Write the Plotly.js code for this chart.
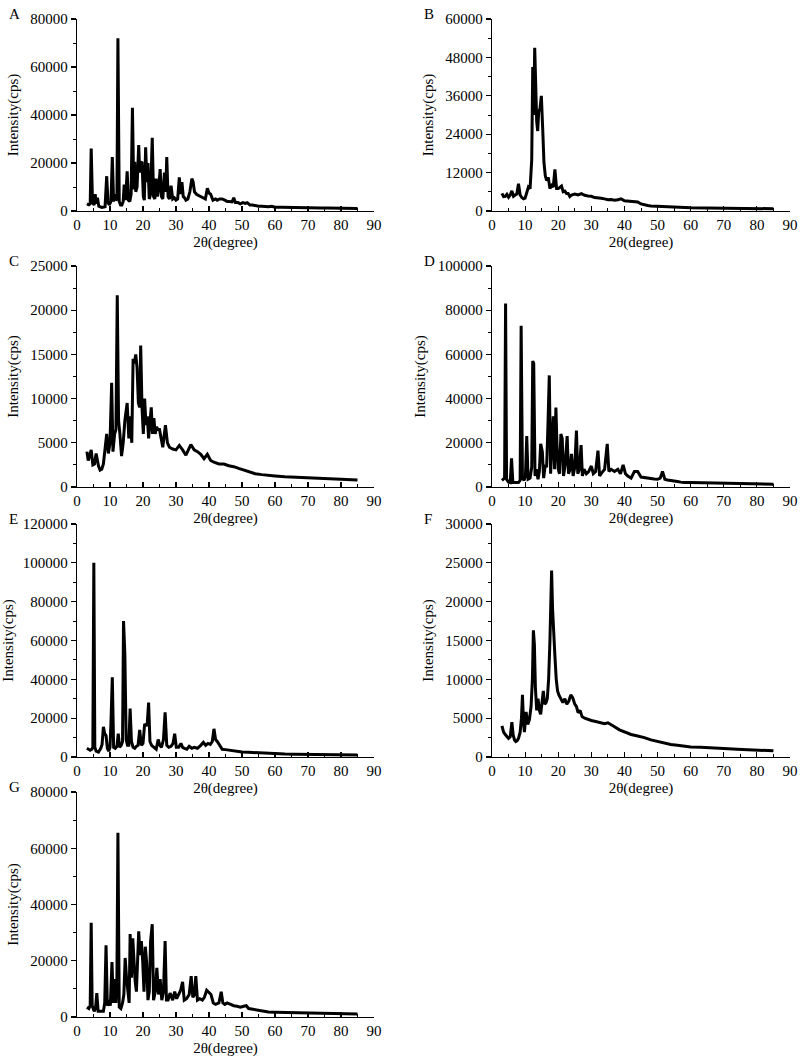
<!DOCTYPE html>
<html>
<head>
<meta charset="utf-8">
<script src="https://cdn.plot.ly/plotly-3.0.1.min.js"></script>
<style>html,body{margin:0;padding:0;background:#fff;}#chart{width:800px;height:1058px;}</style>
</head>
<body>
<div id="chart"></div>
<script>
// ---- Data ----
const panelLabels = ["A","B","C","D","E","F","G"];
const xTitle = "2θ(degree)";
const yTitle = "Intensity(cps)";
const xTicks = [0,10,20,30,40,50,60,70,80,90];
const yMax   = [80000, 60000, 25000, 100000, 120000, 30000, 80000];
const yStep  = [20000, 12000, 5000, 20000, 20000, 5000, 20000];

const aX = [3,3.6,4.0,4.3,4.7,5.2,5.5,5.9,6.2,6.6,7.5,8.5,9.0,9.4,9.8,10.3,10.7,11.1,11.5,11.8,12.1,12.4,12.8,13.2,13.6,14.0,14.3,14.7,15.2,15.6,16.0,16.4,16.8,17.2,17.5,17.8,18.2,18.7,19.0,19.3,19.7,20.1,20.4,20.8,21.2,21.5,21.9,22.3,22.8,23.2,23.6,24.0,24.4,24.8,25.2,25.6,26.0,26.5,26.9,27.2,27.6,28.0,28.5,29.0,29.5,30.0,30.5,31.0,31.4,31.8,32.2,32.6,33.0,33.6,34.2,34.8,35.2,35.6,36.2,36.8,37.5,38.2,38.9,39.5,40.0,40.5,41.2,42.0,42.5,43.2,44.0,44.8,45.5,46.2,47.0,47.5,48.0,48.8,49.5,50.3,51.0,51.6,52.4,53.2,54.0,55.0,56.0,57.0,58.0,59.0,60.0,62.0,64.0,66.0,68.0,70.0,72.0,74.0,76.0,78.0,80.0,82.0,85.0];
const aY = [3000,2600,3000,26000,3500,2500,7000,3000,5500,2000,1500,1800,14500,3500,2500,4000,22500,4000,7000,4500,5000,72000,4000,2500,2500,4000,11000,4500,16500,4500,4000,7000,43000,9000,20500,8000,10000,27500,16000,20000,20500,6000,4500,26500,12000,20000,5000,7000,30500,6000,5000,13500,6000,10000,17500,6000,5000,16000,8000,22500,6000,5000,10500,5000,5500,4500,5000,14000,7000,12000,6000,5500,4500,5000,8000,13500,12000,8000,7000,6500,6000,5500,5000,9500,7500,7000,4500,5000,4500,5000,5000,4500,4000,4000,3800,5500,3500,3500,3000,3500,3200,3500,2500,2500,2200,2000,2000,1800,1800,2000,1600,1600,1500,1500,1500,1400,1400,1300,1300,1200,1200,1100,1000];

const bX = [3,3.5,4.0,4.5,5.0,5.5,6.0,6.5,7.0,7.5,8.0,8.5,9.0,9.5,10.0,10.5,11.0,11.5,12.0,12.3,12.6,12.9,13.2,13.5,13.8,14.1,14.5,14.9,15.3,15.7,16.1,16.5,17.0,17.5,18.0,18.5,19.0,19.5,20.0,20.5,21.0,21.5,22.0,22.5,23.0,23.5,24.0,25.0,26.0,27.0,28.0,29.0,30.0,31.0,32.0,33.0,34.0,35.0,36.0,37.0,38.0,39.0,40.0,41.0,42.0,43.0,44.0,45.0,46.0,47.0,48.0,50.0,52.0,55.0,58.0,60.0,65.0,70.0,75.0,80.0,85.0];
const bY = [5500,4500,4600,5200,4300,5000,6300,4600,5000,5300,8500,5000,4200,3800,4000,5500,7500,7000,16000,45000,30000,51000,33000,28000,25000,31000,32000,36000,26000,15000,11000,9500,10500,7000,8000,7500,13000,7000,7000,7500,7800,6000,6200,5500,5500,4500,5000,5300,5000,5400,4900,4700,4600,4200,4200,4000,3800,3500,3600,3400,3500,3800,3200,3100,3000,3100,2800,2200,1900,1700,1600,1500,1400,1200,1100,1000,950,900,850,800,700];

const cX = [3,3.4,3.8,4.3,4.8,5.3,5.8,6.1,6.5,7.0,7.5,8.0,8.5,9.0,9.5,10.0,10.5,10.9,11.4,11.8,12.2,12.6,13.0,13.5,14.0,14.5,15.2,15.7,16.1,16.6,17.0,17.4,17.8,18.2,18.6,19.0,19.3,19.7,20.1,20.5,20.9,21.3,21.7,22.1,22.5,22.9,23.3,23.7,24.1,24.5,25.0,25.5,26.0,26.8,27.4,28.0,29.0,30.0,31.0,32.0,33.0,34.5,35.5,36.5,37.5,38.5,39.5,40.5,41.5,43.0,44.5,46.0,47.5,49.0,50.5,52.0,54.0,56.0,58.0,60.0,63.0,66.0,70.0,74.0,78.0,82.0,85.0];
const cY = [4000,3000,3500,4200,2500,2600,3800,3000,2400,1900,2000,2600,4500,6000,3800,5000,11800,4000,6000,6500,21700,7500,6000,3500,5000,7500,9500,5500,8000,5000,14500,14000,15000,13500,9500,9000,16000,9000,6000,10000,7000,8000,5500,7000,9000,6000,7800,6000,6800,6500,6500,5500,4500,7000,5000,4500,4300,4200,4700,4200,3600,4800,4200,4000,3700,3200,3700,3000,2800,2600,2600,2400,2300,2100,1900,1700,1500,1400,1300,1250,1150,1100,1000,950,900,850,800];

const dX = [3,3.5,3.8,4.1,4.4,5.0,5.5,5.9,6.3,7.0,8.0,8.5,8.8,9.2,9.7,10.1,10.5,10.9,11.5,12.0,12.3,12.6,13.0,13.4,13.9,14.3,14.7,15.2,15.6,16.1,16.5,16.9,17.3,17.7,18.1,18.5,18.9,19.3,19.6,20.0,20.4,20.8,21.2,21.6,22.1,22.7,23.1,23.6,24.0,24.5,25.0,25.5,25.9,26.4,26.9,27.3,27.8,28.5,29.2,30.0,30.6,31.3,32.0,32.5,33.2,34.0,34.8,35.3,36.0,37.0,38.0,38.8,39.6,40.3,41.0,42.0,43.0,44.0,45.0,46.0,47.0,48.0,49.0,50.0,50.8,51.5,52.2,53.0,54.0,55.0,56.0,57.0,58.0,60.0,63.0,66.0,70.0,74.0,78.0,82.0,85.0];
const dY = [3000,3500,4000,83000,3500,2200,2000,13000,2000,2000,2000,3000,73000,4000,3000,5000,23000,3500,4000,9000,57000,56000,5000,8000,3500,7000,19500,16000,4000,10000,9000,28000,50500,6000,18000,32000,8000,36000,20000,8000,6000,24000,22000,5000,10000,23000,6000,8000,15000,5000,9000,25500,6000,8000,19000,5000,8000,6000,7000,9500,6000,7000,16500,5000,6500,8000,19500,7000,8000,7000,8000,6000,10000,6000,5000,4000,7000,7000,4500,4200,4000,3800,3600,3500,4000,7000,3500,3200,3000,3000,2500,2200,2000,2000,1900,1800,1800,1600,1500,1400,1300];

const eX = [3,3.5,4.0,4.5,4.8,5.1,5.4,5.8,6.5,7.2,7.6,8.0,8.4,8.8,9.2,9.6,10.0,10.3,10.7,11.1,11.6,12.1,12.5,12.9,13.4,13.8,14.1,14.5,14.9,15.3,15.7,16.1,16.5,17.0,17.5,18.0,18.5,19.0,19.5,20.0,20.5,21.0,21.3,21.7,22.1,22.6,23.2,24.0,24.6,25.1,25.6,26.2,26.7,27.2,27.8,28.5,29.1,29.6,30.1,30.8,31.5,32.0,32.6,33.3,34.0,34.8,35.5,36.5,37.5,38.3,39.0,39.7,40.4,41.0,41.5,42.0,42.5,43.2,44.0,45.0,46.0,47.0,48.0,49.0,50.0,52.0,54.0,56.0,58.0,60.0,63.0,66.0,70.0,74.0,78.0,80.0,82.0,85.0];
const eY = [4500,3800,3500,4000,5000,100000,5000,3000,2500,4500,6500,15500,12000,11000,4500,3000,5000,18000,41000,5000,4500,5500,12000,5000,6000,8000,70000,53000,9000,6000,6000,25000,8000,5000,4500,5500,6000,14000,6000,7000,17000,16000,17500,28000,8000,6000,5000,4000,9000,6000,5000,9000,23000,6000,5000,5500,7000,12000,5000,5000,7000,5000,4500,4000,5500,4500,5000,4500,6000,7500,6000,7000,6500,8000,14500,9000,8000,6000,4000,3800,3500,3200,3000,2800,2600,2400,2200,2000,1900,1700,1500,1400,1300,1300,1200,1200,1100,1000];

const fX = [3,3.5,4.0,4.5,5.0,5.5,6.0,6.4,6.8,7.2,7.6,8.0,8.5,8.9,9.2,9.5,9.8,10.3,10.8,11.3,11.8,12.2,12.5,12.8,13.1,13.5,13.9,14.3,14.7,15.1,15.5,15.9,16.3,16.7,17.1,17.5,17.8,18.0,18.3,18.6,19.0,19.4,19.8,20.2,20.8,21.4,22.0,22.6,23.2,23.8,24.4,25.0,25.5,26.0,26.6,27.2,28.0,29.0,30.0,31.0,32.0,33.0,34.0,35.0,36.0,37.0,38.5,40.0,42.0,44.0,46.0,48.0,50.0,52.0,54.0,56.0,58.0,60.0,63.0,66.0,70.0,74.0,78.0,82.0,85.0];
const fY = [4000,3200,2900,2600,2400,2600,4500,2800,2200,2000,2100,2400,3200,5000,8000,4500,3200,5800,4200,4800,6500,10000,16300,14500,9000,6000,7500,6000,5500,7000,8500,6800,7000,7500,10000,15000,21000,24000,19000,17000,13000,10000,8500,8000,7500,7000,7500,6800,7200,8000,7600,6800,6500,5700,6000,5200,5000,4800,4700,4600,4500,4400,4300,4400,4100,3900,3500,3200,2900,2700,2500,2200,2000,1800,1600,1500,1400,1300,1250,1150,1100,1000,950,900,800];

const gX = [3,3.6,4.0,4.3,4.6,5.2,5.6,6.0,6.4,7.0,8.0,8.4,8.8,9.2,9.7,10.1,10.6,11.0,11.4,11.8,12.1,12.4,12.8,13.3,13.8,14.2,14.6,15.0,15.4,15.8,16.1,16.5,16.9,17.2,17.6,18.0,18.4,18.7,19.1,19.5,19.9,20.3,20.7,21.1,21.5,21.9,22.3,22.8,23.2,23.7,24.2,24.7,25.2,25.7,26.2,26.7,27.1,27.6,28.2,29.0,29.6,30.2,30.8,31.4,32.0,32.5,33.2,34.0,34.6,35.1,35.6,36.0,36.5,37.2,38.0,38.6,39.3,40.0,40.6,41.3,42.0,43.0,43.7,44.2,44.8,45.5,46.5,47.5,48.5,49.5,50.5,51.3,52.0,53.0,54.0,55.0,56.0,57.0,58.0,60.0,63.0,66.0,70.0,74.0,78.0,82.0,85.0];
const gY = [3500,3000,4000,33500,4000,2000,3000,8500,2000,2000,2000,5000,25500,4000,6000,4000,19500,5000,13500,5000,14000,65500,3500,3000,5000,8000,21000,14000,10000,5000,29500,14000,28000,20000,13000,9000,26000,30500,22000,27000,20000,9000,25000,19500,6000,9000,27000,33000,6000,9000,17500,8000,13500,6000,9000,27000,6000,6000,8500,6000,9000,6500,8000,9500,12500,6000,6500,8000,14500,7000,8000,14500,6000,6500,6000,7000,9500,8500,8000,5000,4500,5000,9000,5000,4500,5000,4500,4000,3800,3500,3800,4000,3000,2800,2500,2200,2000,1900,1800,1700,1600,1500,1500,1400,1300,1200,1100];

const seriesX = [aX,bX,cX,dX,eX,fX,gX];
const seriesY = [aY,bY,cY,dY,eY,fY,gY];

// ---- Layout geometry (pixels) ----
const W = 800, H = 1058;
const colPx = [[77,374],[492,790]];
const rowPx = [[19,211],[266,487],[524,757],[792,1017]];
const fontFam = 'Liberation Serif, Times New Roman, serif';

const traces = [];
const layout = {
  width: W, height: H,
  margin: {l:0, r:0, t:0, b:0},
  paper_bgcolor: '#fff', plot_bgcolor: '#fff',
  showlegend: false,
  font: {family: fontFam, size: 15, color: '#000'},
  annotations: []
};

for (let i = 0; i < 7; i++) {
  const col = i % 2, row = Math.floor(i / 2);
  const n = i + 1;
  const xa = n === 1 ? 'xaxis' : 'xaxis' + n;
  const ya = n === 1 ? 'yaxis' : 'yaxis' + n;
  const xr = n === 1 ? 'x' : 'x' + n;
  const yr = n === 1 ? 'y' : 'y' + n;
  traces.push({
    x: seriesX[i], y: seriesY[i], type: 'scatter', mode: 'lines',
    xaxis: xr, yaxis: yr,
    line: {color: '#000', width: 3}, hoverinfo: 'skip'
  });
  const cp = colPx[col], rp = rowPx[row];
  layout[xa] = {
    domain: [cp[0]/W, cp[1]/W],
    anchor: yr,
    range: [0, 90],
    tickvals: xTicks,
    ticks: 'inside', ticklen: 5, tickwidth: 1.2, tickcolor: '#000',
    minor: {ticks: 'inside', ticklen: 3, dtick: 5, tick0: 0, tickcolor: '#000', tickwidth: 1},
    showline: true, linecolor: '#000', linewidth: 1.2,
    showgrid: false, zeroline: false,
    tickfont: {family: fontFam, size: 15, color: '#000'},
    title: {text: xTitle, font: {family: fontFam, size: 15, color: '#000'}, standoff: 4},
    fixedrange: true
  };
  layout[ya] = {
    domain: [1 - rp[1]/H, 1 - rp[0]/H],
    anchor: xr,
    range: [0, yMax[i]],
    tick0: 0, dtick: yStep[i],
    ticks: 'outside', ticklen: 5, tickwidth: 1.2, tickcolor: '#000',
    minor: {ticks: 'outside', ticklen: 3, dtick: yStep[i]/2, tick0: 0, tickcolor: '#000', tickwidth: 1},
    showline: true, linecolor: '#000', linewidth: 1.2,
    showgrid: false, zeroline: false,
    tickformat: 'd',
    tickfont: {family: fontFam, size: 15, color: '#000'},
    title: {text: yTitle, font: {family: fontFam, size: 15, color: '#000'}, standoff: 8},
    fixedrange: true
  };
  layout.annotations.push({
    text: panelLabels[i], xref: 'paper', yref: 'paper',
    x: (col === 0 ? 7 : 422) / W, y: 1 - (rp[0] - 5) / H,
    xanchor: 'left', yanchor: 'middle', showarrow: false,
    font: {family: fontFam, size: 15, color: '#000'}
  });
}

Plotly.newPlot('chart', traces, layout, {staticPlot: true, displayModeBar: false});
</script>
</body>
</html>
